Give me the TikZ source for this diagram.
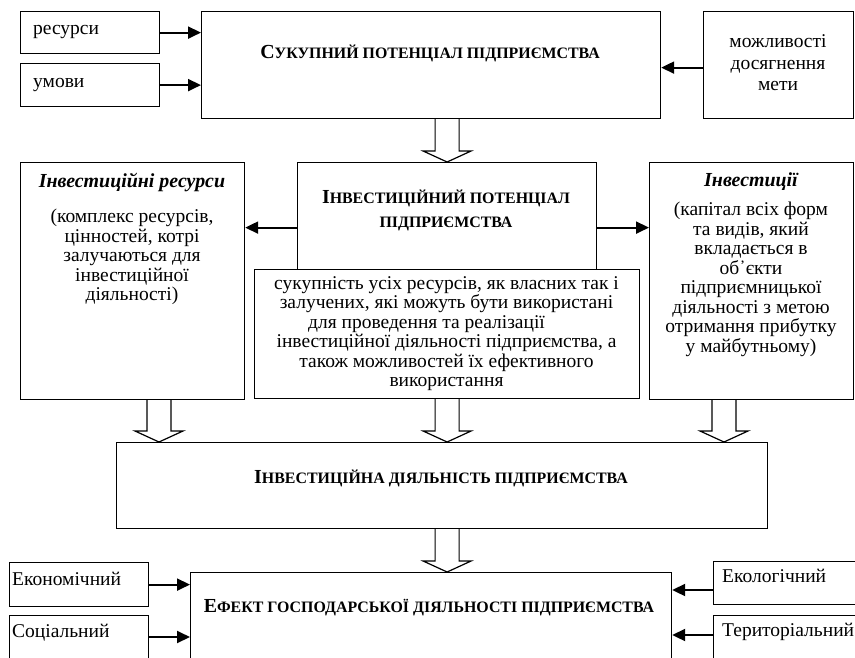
\documentclass[tikz,border=0pt]{standalone}
\usepackage{fontspec}
\setmainfont{Liberation Serif}
\usetikzlibrary{arrows.meta,calc}
\newcommand\hsc[1]{{\fontsize{15.9pt}{24pt}\selectfont #1}}
\newcommand\fatarrow[2]{\draw[fat] let \p1=(#1), \p2=(#2) in
  (\x1-12pt,\y1) -- (\x1-12pt,\y2+11pt) -- (\x1-24pt,\y2+11pt) -- (\x1,\y2)
  -- (\x1+24pt,\y2+11pt) -- (\x1+12pt,\y2+11pt) -- (\x1+12pt,\y1);}
\begin{document}
\begin{tikzpicture}[x=1pt,y=-1pt,
  box/.style={draw, line width=1.2pt, inner sep=0pt, anchor=north west},
  txt/.style={inner sep=0pt, font=\fontsize{19.5pt}{19.5pt}\selectfont, align=center},
  head/.style={inner sep=0pt, font=\bfseries\fontsize{19.9pt}{24pt}\selectfont, align=center},
  ital/.style={inner sep=0pt, font=\bfseries\itshape\fontsize{19.9pt}{19.5pt}\selectfont},
  arr/.style={line width=2pt, -{Triangle[length=13pt,width=12pt]}},
  fat/.style={draw, line width=1.2pt, line join=miter}]
\useasboundingbox (0,0) rectangle (855,657);
\clip (0,0) rectangle (855,657);

% boxes
\node[box, minimum width=139pt, minimum height=42pt] (res) at (20,11) {};
\node[box, minimum width=139pt, minimum height=43pt] (umo) at (20,63) {};
\node[box, minimum width=459pt, minimum height=107pt] (top) at (201,11) {};
\node[box, minimum width=150pt, minimum height=107pt] (moz) at (703,11) {};
\node[box, minimum width=299pt, minimum height=107pt] (ipot) at (297,162) {};
\node[box, minimum width=385pt, minimum height=129pt] (suk) at (254,269) {};
\node[box, minimum width=224pt, minimum height=237pt] (ires) at (20,162) {};
\node[box, minimum width=204pt, minimum height=237pt] (inv) at (649,162) {};
\node[box, minimum width=651pt, minimum height=86pt] (act) at (116,442) {};
\node[box, minimum width=481pt, minimum height=130pt] (eff) at (190,572) {};
\node[box, minimum width=139pt, minimum height=44pt] (eko) at (9,562) {};
\node[box, minimum width=139pt, minimum height=80pt] (soc) at (9,615) {};
\node[box, minimum width=160pt, minimum height=43pt] (ekl) at (713,561) {};
\node[box, minimum width=160pt, minimum height=80pt] (ter) at (713,615) {};

% texts
\node[txt, anchor=base west] (rest) at (33,34) {ресурси};
\node[txt, anchor=base west] (umot) at (33,87) {умови};
\node[head] (topt) at (430,53) {С\hsc{УКУПНИЙ ПОТЕНЦІАЛ ПІДПРИЄМСТВА}};
\node[txt, font=\fontsize{19.5pt}{21.5pt}\selectfont] (mozt) at (778,63) {можливості\\досягнення\\мети};
\node[head] (ipott) at (446,210) {І\hsc{НВЕСТИЦІЙНИЙ ПОТЕНЦІАЛ}\\\hsc{ПІДПРИЄМСТВА}};
\node[txt] (sukt) at (446.5,333.5) {сукупність усіх ресурсів, як власних так і\\залучених, які можуть бути використані\\для проведення та реалізації\hspace{40pt}\null\\інвестиційної діяльності підприємства, а\\також можливостей їх ефективного\\використання};
\node[ital] (irest) at (132,182) {Інвестиційні ресурси};
\node[txt] (iresb) at (132,257) {(комплекс ресурсів,\\цінностей, котрі\\залучаються для\\інвестиційної\\діяльності)};
\node[txt] (invb) at (751,279.5) {(капітал всіх форм\\та видів, який\\вкладається в\\об᾿єкти\\підприємницької\\діяльності з метою\\отримання прибутку\\у майбутньому)};
\node[ital] (invt) at (751,182) {Інвестиції};
\node[head] (actt) at (441,478) {І\hsc{НВЕСТИЦІЙНА ДІЯЛЬНІСТЬ ПІДПРИЄМСТВА}};
\node[head] (efft) at (429,608) {Е\hsc{ФЕКТ ГОСПОДАРСЬКОЇ ДІЯЛЬНОСТІ ПІДПРИЄМСТВА}};
\node[txt, anchor=base west] (ekot) at (12,585) {Економічний};
\node[txt, anchor=base west] (soct) at (12,637) {Соціальний};
\node[txt, anchor=base west] (eklt) at (722,582) {Екологічний};
\node[txt, anchor=base west] (tert) at (722,636) {Територіальний};

% solid arrows
\coordinate (pL) at ([yshift=-11.5pt]ipot.west);
\coordinate (pR) at ([yshift=-11.5pt]ipot.east);
\coordinate (mz) at ([yshift=-2.5pt]moz.west);
\coordinate (sc) at (0,637);
\coordinate (ek) at (0,590);
\coordinate (tr) at (0,635);
\draw[arr] (res.east) -- (res.east -| top.west);
\draw[arr] (umo.east) -- (umo.east -| top.west);
\draw[arr] (mz) -- (mz -| top.east);
\draw[arr] (pL) -- (pL -| ires.east);
\draw[arr] (pR) -- (pR -| inv.west);
\draw[arr] (eko.east) -- (eko.east -| eff.west);
\draw[arr] (sc -| soc.east) -- (sc -| eff.west);
\draw[arr] (ek -| ekl.west) -- (ek -| eff.east);
\draw[arr] (tr -| ter.west) -- (tr -| eff.east);

% hollow arrows
\coordinate (xL) at (159,0);
\coordinate (xR) at (724,0);
\fatarrow{top.south -| ipot.north}{ipot.north}
\fatarrow{ires.south -| xL}{act.north -| xL}
\fatarrow{suk.south}{suk.south |- act.north}
\fatarrow{inv.south -| xR}{act.north -| xR}
\fatarrow{act.south -| ipot.north}{eff.north -| ipot.north}
\end{tikzpicture}
\end{document}
